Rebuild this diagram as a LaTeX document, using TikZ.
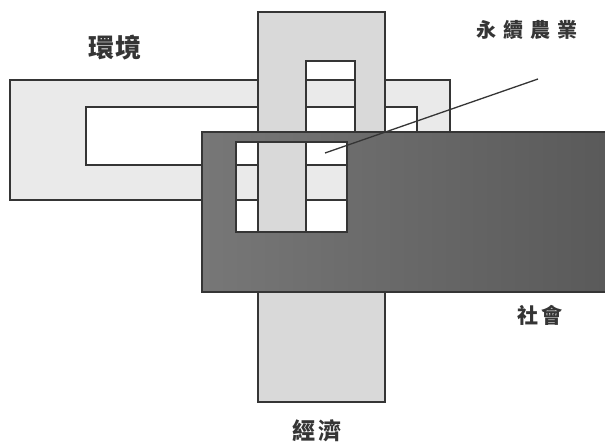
\documentclass[tikz,border=0pt]{standalone}
\usepackage{fontspec}
\setmainfont{Noto Sans CJK TC}
\definecolor{inkc}{HTML}{353535}
\definecolor{envc}{HTML}{EAEAEA}
\definecolor{ecoc}{HTML}{D9D9D9}
\definecolor{socl}{HTML}{777777}
\definecolor{socr}{HTML}{5A5A5A}
\tikzset{
  frameline/.style={draw=inkc, line width=1.7pt, line join=miter},
  envband/.style={fill=envc, even odd rule},
  ecoband/.style={fill=ecoc, even odd rule},
  socband/.style={left color=socl, right color=socr, even odd rule},
  lbl/.style={text=inkc, inner sep=0pt, anchor=center},
  leader/.style={draw=inkc, line width=1.3pt}
}
\begin{document}
\begin{tikzpicture}[x=1pt,y=-1pt]
\useasboundingbox[fill=white] (0,0) rectangle (605,444);
% environment frame
\fill[envband] (10,80) rectangle (450,200) (86,107) rectangle (417,165);
\draw[frameline] (10,80) rectangle (450,200);
\draw[frameline] (86,107) rectangle (417,165);
% economy frame
\fill[ecoband] (258,12) rectangle (385,402) (306,61) rectangle (355,280);
\draw[frameline] (258,12) rectangle (385,402);
\draw[frameline] (306,61) rectangle (355,280);
% society frame
\shade[socband] (202,132) rectangle (605,292) (236,142) rectangle (347,232);
\draw[frameline] (605,132) -- (202,132) -- (202,292) -- (605,292);
\draw[frameline] (236,142) rectangle (347,232);
% labels
\node[lbl, font=\fontsize{26}{26}\bfseries] (env) at (115,48) {環\hspace{2pt}境};
\node[lbl, font=\fontsize{20}{20}\bfseries] (sa) at (527,30) {永\hspace{7pt}續\hspace{7pt}農\hspace{7pt}業};
\node[lbl, font=\fontsize{21}{21}\bfseries] (soc) at (540,315) {社\hspace{4pt}會};
\node[lbl, font=\fontsize{23}{23}\bfseries] (eco) at (317,431) {經\hspace{4pt}濟};
% leader line
\coordinate (leadtop) at (538,79);
\coordinate (leadtip) at (325,153);
\draw[leader] (leadtop) -- (leadtip);
\end{tikzpicture}
\end{document}
